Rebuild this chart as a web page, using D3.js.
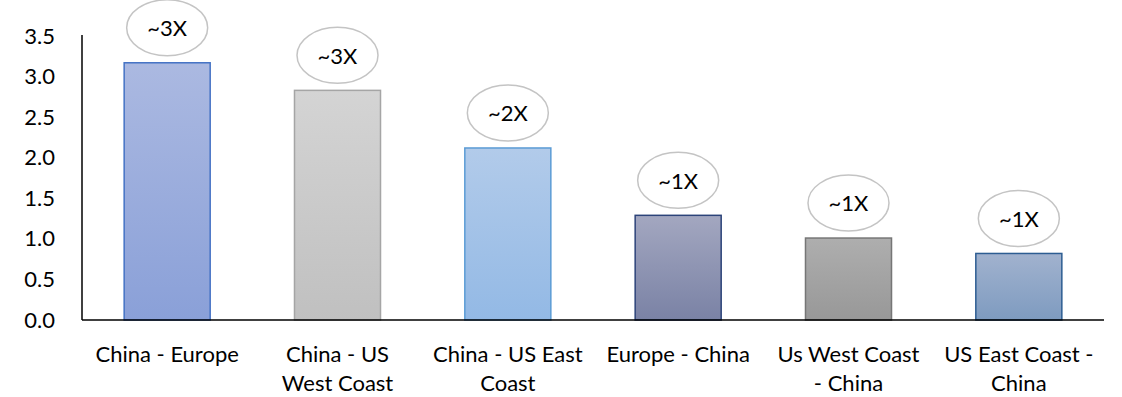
<!DOCTYPE html>
<html>
<head>
<meta charset="utf-8">
<script src="https://cdn.jsdelivr.net/npm/d3@7/dist/d3.min.js"></script>
<style>
  html, body { margin: 0; padding: 0; background: #fff; }
  svg { display: block; }
  text { font-family: Lato, "Noto Sans", sans-serif; fill: #000; }
</style>
</head>
<body>
<svg id="chart" width="1122" height="397"></svg>
<script>
// Trade lanes and their ratio values
const categories = [
  "China - Europe",
  "China - US West Coast",
  "China - US East Coast",
  "Europe - China",
  "Us West Coast - China",
  "US East Coast - China"
];
const categoryLines = [
  ["China - Europe"],
  ["China - US", "West Coast"],
  ["China - US East", "Coast"],
  ["Europe - China"],
  ["Us West Coast", "- China"],
  ["US East Coast -", "China"]
];
const values = [3.17, 2.83, 2.12, 1.29, 1.01, 0.82];
const badges = ["~3X", "~3X", "~2X", "~1X", "~1X", "~1X"];
const yTicks = [0, 0.5, 1, 1.5, 2, 2.5, 3, 3.5];

// Fill gradient (top, bottom) and outline per bar
const barStyles = [
  { top: "#abb9e1", bottom: "#8aa0d8", stroke: "#4472c4" },
  { top: "#d4d4d4", bottom: "#c0c0c0", stroke: "#a5a5a5" },
  { top: "#b2cbea", bottom: "#93b9e5", stroke: "#5b9bd5" },
  { top: "#a3a7c0", bottom: "#7a82a5", stroke: "#2c4379" },
  { top: "#aeaeae", bottom: "#989898", stroke: "#767676" },
  { top: "#a1b2ce", bottom: "#7e9bc0", stroke: "#2d5d92" }
];

const fontSize = 22;
const svg = d3.select("#chart");
const plotLeft = 82, plotRight = 1104, plotTop = 36, plotBottom = 320;

const x = d3.scaleBand()
  .domain(categories)
  .range([plotLeft, plotRight])
  .paddingInner(0.495)
  .paddingOuter(0.2475);

const y = d3.scaleLinear().domain([0, 3.5]).range([plotBottom, plotTop]);

// Gradients
const defs = svg.append("defs");
barStyles.forEach((s, i) => {
  const g = defs.append("linearGradient")
    .attr("id", "grad" + i)
    .attr("x1", 0).attr("y1", 0).attr("x2", 0).attr("y2", 1);
  g.append("stop").attr("offset", "0%").attr("stop-color", s.top);
  g.append("stop").attr("offset", "100%").attr("stop-color", s.bottom);
});

// Bars
svg.append("g").selectAll("rect")
  .data(values)
  .join("rect")
  .attr("x", (d, i) => x(categories[i]))
  .attr("y", d => y(d))
  .attr("width", x.bandwidth())
  .attr("height", d => y(0) - y(d))
  .attr("fill", (d, i) => `url(#grad${i})`)
  .attr("stroke", (d, i) => barStyles[i].stroke)
  .attr("stroke-width", 1.5);

// Y axis
const yAxis = svg.append("g")
  .attr("transform", `translate(${plotLeft},0)`)
  .call(d3.axisLeft(y).tickValues(yTicks).tickFormat(d3.format(".1f")).tickSize(0).tickPadding(27));
yAxis.select(".domain").attr("stroke", "#000").attr("stroke-width", 1.5)
  .attr("d", `M0,${plotTop - 1}V${plotBottom}`);
yAxis.selectAll("text")
  .attr("font-family", "Lato, 'Noto Sans', sans-serif")
  .attr("font-size", fontSize)
  .attr("fill", "#000");

// X axis
const xAxis = svg.append("g")
  .attr("transform", `translate(0,${plotBottom})`)
  .call(d3.axisBottom(x).tickSize(0).tickFormat(""));
xAxis.select(".domain").attr("stroke", "#000").attr("stroke-width", 1.5)
  .attr("d", `M${plotLeft},0H${plotRight}`);

xAxis.selectAll(".tick").each(function (d, i) {
  const t = d3.select(this).append("text")
    .attr("text-anchor", "middle")
    .attr("font-size", fontSize)
    .attr("fill", "#000");
  categoryLines[i].forEach((line, k) => {
    t.append("tspan")
      .attr("x", 0)
      .attr("y", 42 + k * 29)
      .text(line);
  });
});

// Ratio badges above each bar
const rx = 40.5, ry = 28, gap = 7;
const badge = svg.append("g").selectAll("g")
  .data(values)
  .join("g")
  .attr("transform", (d, i) =>
    `translate(${x(categories[i]) + x.bandwidth() / 2},${y(d) - gap - ry})`);
badge.append("ellipse")
  .attr("rx", rx).attr("ry", ry)
  .attr("fill", "#fff")
  .attr("stroke", "#c4c4c4")
  .attr("stroke-width", 1.5);
badge.append("text")
  .attr("text-anchor", "middle")
  .attr("dy", "0.38em")
  .attr("font-size", fontSize)
  .text((d, i) => badges[i]);
</script>
</body>
</html>
